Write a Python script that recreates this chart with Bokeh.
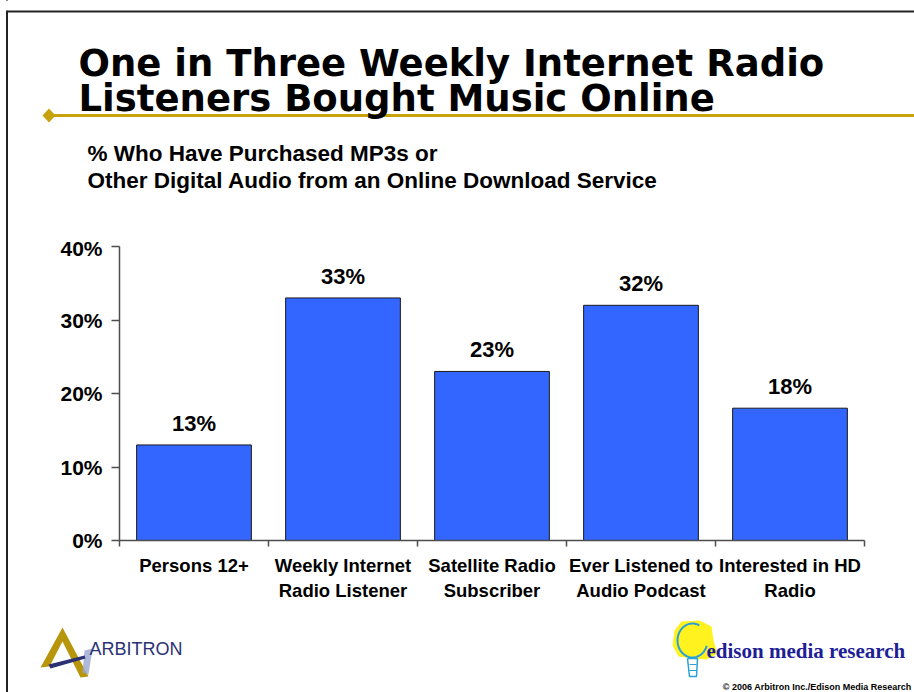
import numpy as np
from bokeh.plotting import figure
from bokeh.layouts import column
from bokeh.models import (ColumnDataSource, Range1d, LinearAxis,
                          FixedTicker, PrintfTickFormatter, LabelSet)
from bokeh.core.properties import value
from bokeh.embed import file_html
from bokeh.resources import INLINE

# ---------------- data ----------------
categories = ["Persons 12+", "Weekly Internet Radio Listener", "Satellite Radio Subscriber",
              "Ever Listened to Audio Podcast", "Interested in HD Radio"]
category_labels = ["Persons 12+", "Weekly Internet\nRadio Listener", "Satellite Radio\nSubscriber",
                   "Ever Listened to\nAudio Podcast", "Interested in HD\nRadio"]
values = [13, 33, 23, 32, 18]
y_ticks = [0, 10, 20, 30, 40]
title_lines = ["One in Three Weekly Internet Radio", "Listeners Bought Music Online"]
subtitle_lines = ["% Who Have Purchased MP3s or", "Other Digital Audio from an Online Download Service"]

# ---------------- page geometry (pixels) ----------------
W, H = 914, 692
TOP_H = 236            # header band height
MID_B = 612            # bottom of chart band
FL, FR, FT, FB = 119, 864, 246, 540   # chart frame on page
AXIS = "#4d4d4d"
BORDER = "#222222"
FONT = "Liberation Sans"
GOLD = "#C8A20C"
NAVY = "#2B3173"


def deco(width, height, x0, y0):
    f = figure(width=width, height=height,
               x_range=Range1d(x0, x0 + width), y_range=Range1d(y0 + height, y0),
               output_backend="svg", toolbar_location=None,
               x_axis_location=None, y_axis_location=None, min_border=0,
               frame_align=False)
    f.outline_line_color = None
    f.grid.visible = False
    f.background_fill_color = None
    f.border_fill_color = None
    return f


def txt(f, s, X, Y, size, font=FONT, style="bold", color="black", align="left"):
    f.text(x=[X], y=[Y], text=[s], text_font=value(font), text_font_style=style,
           text_font_size=value(size), text_color=color, text_align=align,
           text_baseline="alphabetic")


# ---------------- header ----------------
top = deco(W, TOP_H, 0, 0)
# hide the CSS border line above the slide's top edge
top.patch(x=[0, 12, 12, 0], y=[-2, -2, 10, 10], fill_color="white", line_color=None)
top.line(x=[7, W + 5], y=[11, 11], line_color=BORDER, line_width=2)
top.patch(x=[48, W + 5, W + 5, 48], y=[113.5, 113.5, 116.5, 116.5], fill_color=GOLD, line_color=None)
top.patch(x=[42, 48.5, 55, 48.5], y=[115, 108, 115, 122], fill_color=GOLD, line_color=None)
txt(top, title_lines[0], 78, 63, "37px", font="DejaVu Sans")
txt(top, title_lines[1], 78, 98, "37px", font="DejaVu Sans")
txt(top, subtitle_lines[0], 87, 153, "22.5px")
txt(top, subtitle_lines[1], 87, 180, "22.5px")

# ---------------- chart ----------------
n = len(categories)
centers = [i + 0.5 for i in range(n)]      # category slot centres
edges = list(range(n + 1))                 # category slot boundaries

p = figure(width=W, height=MID_B - TOP_H,
           x_range=Range1d(0, n), y_range=Range1d(0, 40),
           output_backend="svg", toolbar_location=None,
           x_axis_location=None, y_axis_location="left",
           min_border_left=FL, min_border_right=W - FR,
           min_border_top=FT - TOP_H, min_border_bottom=MID_B - FB,
           frame_align=False)
p.outline_line_color = None
p.grid.visible = False
p.background_fill_color = "white"
p.border_fill_color = None

src = ColumnDataSource(dict(x=centers, cat=categories, val=values, lbl=[f"{v}%" for v in values]))
p.vbar(x="x", top="val", width=0.77, source=src,
       fill_color="#3366FF", line_color="#1a1a1a", line_width=1)

p.add_layout(LabelSet(x="x", y="val", text="lbl", source=src, y_offset=14,
                      text_align="center", text_baseline="alphabetic",
                      text_font=value(FONT), text_font_style="bold",
                      text_font_size=value("22px"), text_color="black"))

ya = p.yaxis[0]
ya.ticker = FixedTicker(ticks=y_ticks)
ya.formatter = PrintfTickFormatter(format="%d%%")
ya.major_tick_out = 8
ya.major_tick_in = 0
ya.minor_tick_line_color = None
ya.major_label_standoff = 9
ya.major_label_text_font = FONT
ya.major_label_text_font_style = "bold"
ya.major_label_text_font_size = "21px"
ya.major_label_text_color = "black"
ya.axis_line_color = AXIS
ya.axis_line_width = 1.5
ya.major_tick_line_color = AXIS
ya.major_tick_line_width = 1.5

edge_axis = LinearAxis(ticker=FixedTicker(ticks=edges),
                       major_tick_out=6, major_tick_in=0, minor_tick_line_color=None,
                       major_label_overrides={e: "" for e in edges},
                       major_label_text_font_size="0px", major_label_standoff=0,
                       axis_line_color=AXIS, axis_line_width=1.5,
                       major_tick_line_color=AXIS, major_tick_line_width=1.5)
p.add_layout(edge_axis, "below")
cat_axis = LinearAxis(ticker=FixedTicker(ticks=centers),
                      axis_line_color=None, major_tick_line_color=None,
                      minor_tick_line_color=None,
                      major_label_overrides=dict(zip(centers, category_labels)),
                      major_label_text_font=FONT, major_label_text_font_style="bold",
                      major_label_text_font_size="18.5px", major_label_text_color="black",
                      major_label_standoff=2)
p.add_layout(cat_axis, "below")

# ---------------- footer with logos ----------------
bot = deco(W, H - MID_B, 0, MID_B)
# Arbitron logo
bot.patch(x=[40, 62, 88, 80, 62, 49], y=[667, 627, 676, 677, 641, 666],
          fill_color="#B8960C", line_color=None)
bot.patch(x=[84, 92, 88, 82], y=[650, 648, 674, 672], fill_color="#9aa6d0", fill_alpha=0.8,
          line_color=None)
bot.patch(x=[48, 84, 85, 50], y=[664, 655, 658, 668], fill_color=NAVY, line_color=None)
txt(bot, "ARBITRON", 89, 648, "18px", style="normal", color=NAVY)
# Edison logo
bot.patch(x=[681, 699, 711, 713, 717, 706, 692, 678, 672, 674],
          y=[621, 620, 626, 640, 653, 659, 658, 656, 645, 630],
          fill_color="#FFF21E", line_color=None)
t = np.linspace(0.35 * np.pi, 1.9 * np.pi, 40)
bot.line(x=692 + 15 * np.cos(t), y=640 - 17 * np.sin(t), line_color="#2AA0D8", line_width=2)
bot.line(x=[687, 697, 696, 689, 687], y=[658, 658, 676, 676, 658], line_color="#2AA0D8", line_width=1.5)
bot.line(x=[689, 696], y=[664, 664], line_color="#2AA0D8", line_width=1)
bot.line(x=[689, 696], y=[670, 670], line_color="#2AA0D8", line_width=1)
txt(bot, "edison media research", 706, 650, "21px", font="Liberation Serif", color="#1E1E96")
txt(bot, "\u00a9 2006 Arbitron Inc./Edison Media Research", 911, 686, "9px", align="right")

layout = column(top, p, bot, styles={
    "background": "linear-gradient(to right, #ffffff 0px, #ffffff 6px, #222222 6px, "
                  "#222222 8px, #ffffff 8px, #ffffff 100%)"})
open("out.html", "w").write(file_html(layout, INLINE))
